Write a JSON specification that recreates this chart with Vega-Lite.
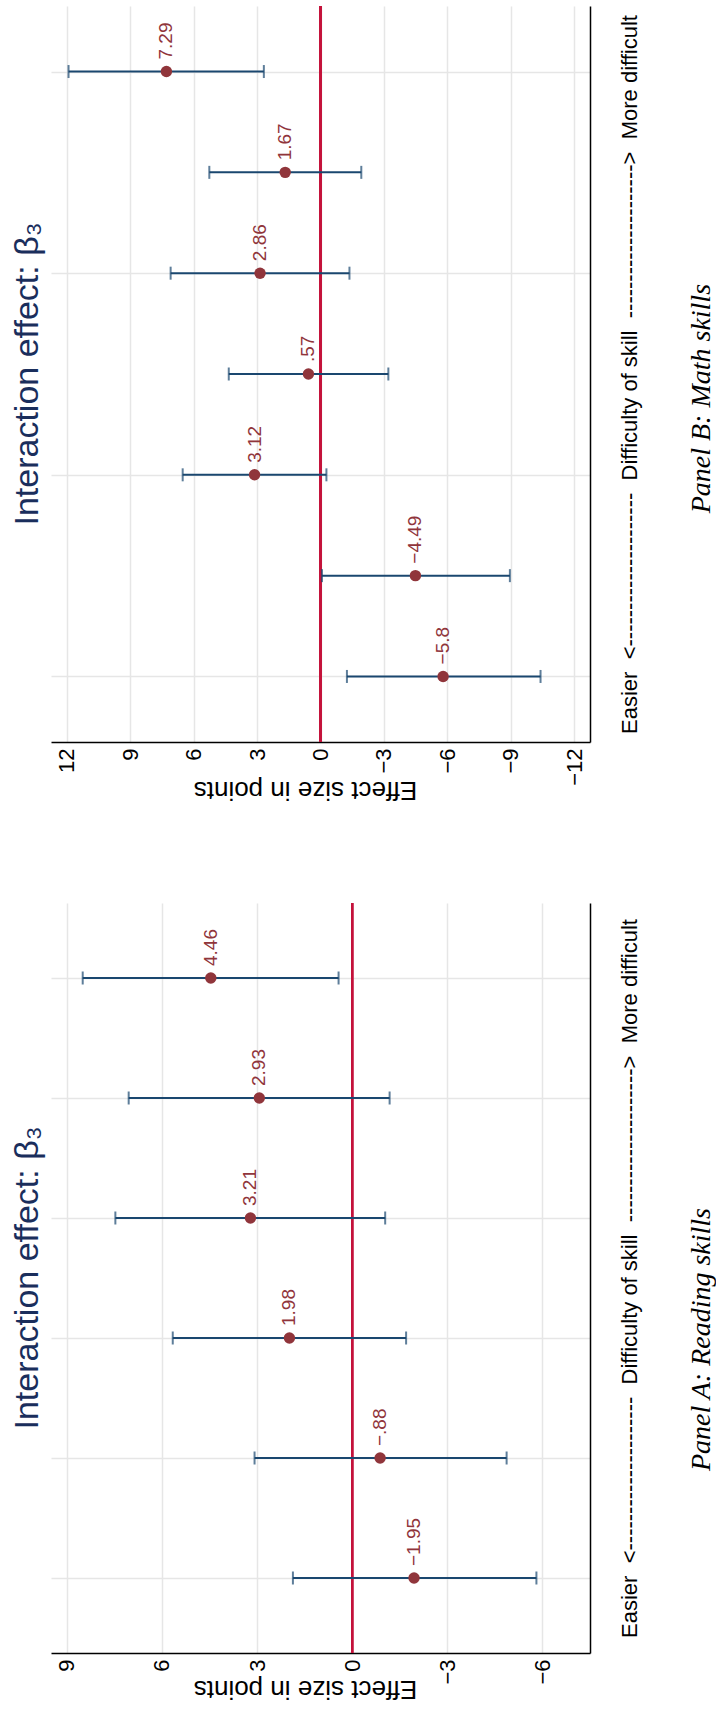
{
  "$schema": "https://vega.github.io/schema/vega-lite/v6.json",
  "background": "white",
  "padding": {"top": 5, "left": 10, "right": 0, "bottom": 0},
  "spacing": 99,
  "config": {
    "view": {"stroke": null},
    "font": "Liberation Sans",
    "axis": {
      "domainColor": "#000000",
      "domainWidth": 1.5,
      "gridColor": "#E6E6E6",
      "gridWidth": 1.5,
      "ticks": false,
      "labelFont": "Liberation Sans",
      "labelFontSize": 22,
      "labelColor": "#000000",
      "titleFont": "Liberation Sans",
      "titleFontSize": 22,
      "titleFontWeight": "normal",
      "titleColor": "#000000"
    },
    "title": {"font": "Liberation Sans", "fontWeight": "normal"}
  },
  "datasets": {
    "math": [
      {"pos": 1, "est": -5.8, "lo": -10.41, "hi": -1.25, "label": "−5.8"},
      {"pos": 2, "est": -4.49, "lo": -8.96, "hi": -0.07, "label": "−4.49"},
      {"pos": 3, "est": 3.12, "lo": -0.28, "hi": 6.52, "label": "3.12"},
      {"pos": 4, "est": 0.57, "lo": -3.21, "hi": 4.34, "label": ".57"},
      {"pos": 5, "est": 2.86, "lo": -1.37, "hi": 7.09, "label": "2.86"},
      {"pos": 6, "est": 1.67, "lo": -1.93, "hi": 5.26, "label": "1.67"},
      {"pos": 7, "est": 7.29, "lo": 2.68, "hi": 11.92, "label": "7.29"}
    ],
    "reading": [
      {"pos": 1, "est": -1.95, "lo": -5.81, "hi": 1.87, "label": "−1.95"},
      {"pos": 2, "est": -0.88, "lo": -4.87, "hi": 3.08, "label": "−.88"},
      {"pos": 3, "est": 1.98, "lo": -1.70, "hi": 5.66, "label": "1.98"},
      {"pos": 4, "est": 3.21, "lo": -1.04, "hi": 7.47, "label": "3.21"},
      {"pos": 5, "est": 2.93, "lo": -1.18, "hi": 7.05, "label": "2.93"},
      {"pos": 6, "est": 4.46, "lo": 0.43, "hi": 8.50, "label": "4.46"}
    ]
  },
  "vconcat": [
    {
      "title": {"text": "Panel B: Math skills", "orient": "right", "angle": 270, "baseline": "top", "font": "Liberation Serif", "fontStyle": "italic", "fontWeight": "normal", "fontSize": 28, "color": "#000000", "offset": 20, "anchor": "middle", "dx": 5},
      "vconcat": [
        {
          "title": {"text": "Interaction effect: β₃", "orient": "left", "fontSize": 34, "color": "#1A2E5C", "offset": 6, "anchor": "middle"},
          "width": 539,
          "height": 736,
          "data": {"name": "math"},
          "encoding": {
            "y": {"field": "pos", "type": "quantitative",
              "scale": {"domain": [0.35, 7.65], "nice": false, "zero": false},
              "axis": {"orient": "right", "values": [1, 3, 5, 7], "labels": false, "ticks": false, "grid": true, "domain": true,
                "title": "Easier\u00a0\u00a0<---------------------\u00a0\u00a0Difficulty of skill\u00a0\u00a0--------------------->\u00a0\u00a0More difficult",
                "titleAngle": 270, "titleBaseline": "top", "titlePadding": 29}}
          },
          "layer": [
            {"mark": {"type": "rule", "color": "#C4123A", "strokeWidth": 2},
             "encoding": {"x": {"datum": 0, "type": "quantitative",
               "scale": {"domain": [-12.75, 12.75], "reverse": true, "nice": false, "zero": false},
               "axis": {"orient": "bottom", "values": [-12, -9, -6, -3, 0, 3, 6, 9, 12], "labelAngle": 270, "labelPadding": 6, "grid": true,
                 "title": "Effect size in points", "titleAngle": 180, "titleBaseline": "bottom", "titlePadding": -9, "titleFontSize": 26, "titleX": 254}}, "y": null}},
            {"mark": {"type": "rule", "color": "#1A476F", "strokeWidth": 2},
             "encoding": {"x": {"field": "lo", "type": "quantitative"}, "x2": {"field": "hi"}}},
            {"mark": {"type": "tick", "orient": "vertical", "color": "#1A476F", "size": 13, "thickness": 2},
             "encoding": {"x": {"field": "lo", "type": "quantitative"}}},
            {"mark": {"type": "tick", "orient": "vertical", "color": "#1A476F", "size": 13, "thickness": 2},
             "encoding": {"x": {"field": "hi", "type": "quantitative"}}},
            {"mark": {"type": "circle", "color": "#90353B", "opacity": 1, "size": 130},
             "encoding": {"x": {"field": "est", "type": "quantitative"}}},
            {"mark": {"type": "text", "color": "#90353B", "fontSize": 19, "angle": 270, "align": "left", "baseline": "middle", "dx": 12},
             "encoding": {"x": {"field": "est", "type": "quantitative"}, "text": {"field": "label"}}}
          ]
        }
      ]
    },
    {
      "title": {"text": "Panel A: Reading skills", "orient": "right", "angle": 270, "baseline": "top", "font": "Liberation Serif", "fontStyle": "italic", "fontWeight": "normal", "fontSize": 28, "color": "#000000", "offset": 20, "anchor": "middle", "dx": -38},
      "vconcat": [
        {
          "title": {"text": "Interaction effect: β₃", "orient": "left", "fontSize": 34, "color": "#1A2E5C", "offset": 6, "anchor": "middle"},
          "width": 539,
          "height": 750,
          "data": {"name": "reading"},
          "encoding": {
            "y": {"field": "pos", "type": "quantitative",
              "scale": {"domain": [0.375, 6.625], "nice": false, "zero": false},
              "axis": {"orient": "right", "values": [1, 2, 3, 4, 5, 6], "labels": false, "ticks": false, "grid": true, "domain": true,
                "title": "Easier\u00a0\u00a0<---------------------\u00a0\u00a0Difficulty of skill\u00a0\u00a0--------------------->\u00a0\u00a0More difficult",
                "titleAngle": 270, "titleBaseline": "top", "titlePadding": 29}}
          },
          "layer": [
            {"mark": {"type": "rule", "color": "#C4123A", "strokeWidth": 2},
             "encoding": {"x": {"datum": 0, "type": "quantitative",
               "scale": {"domain": [-7.5, 9.5], "reverse": true, "nice": false, "zero": false},
               "axis": {"orient": "bottom", "values": [-6, -3, 0, 3, 6, 9], "labelAngle": 270, "labelPadding": 6, "grid": true,
                 "title": "Effect size in points", "titleAngle": 180, "titleBaseline": "bottom", "titlePadding": -9, "titleFontSize": 26, "titleX": 254}}, "y": null}},
            {"mark": {"type": "rule", "color": "#1A476F", "strokeWidth": 2},
             "encoding": {"x": {"field": "lo", "type": "quantitative"}, "x2": {"field": "hi"}}},
            {"mark": {"type": "tick", "orient": "vertical", "color": "#1A476F", "size": 13, "thickness": 2},
             "encoding": {"x": {"field": "lo", "type": "quantitative"}}},
            {"mark": {"type": "tick", "orient": "vertical", "color": "#1A476F", "size": 13, "thickness": 2},
             "encoding": {"x": {"field": "hi", "type": "quantitative"}}},
            {"mark": {"type": "circle", "color": "#90353B", "opacity": 1, "size": 130},
             "encoding": {"x": {"field": "est", "type": "quantitative"}}},
            {"mark": {"type": "text", "color": "#90353B", "fontSize": 19, "angle": 270, "align": "left", "baseline": "middle", "dx": 12},
             "encoding": {"x": {"field": "est", "type": "quantitative"}, "text": {"field": "label"}}}
          ]
        }
      ]
    }
  ]
}
